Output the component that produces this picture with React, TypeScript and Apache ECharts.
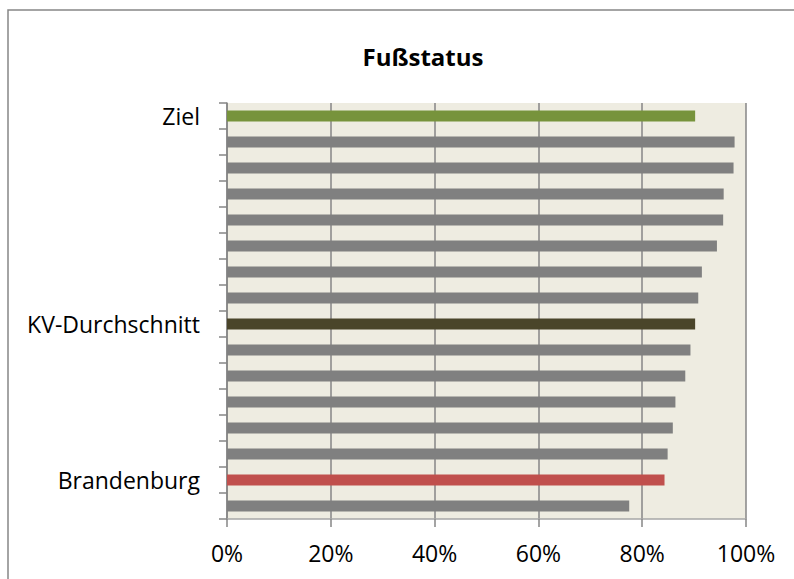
import React, { useEffect, useRef } from "react";
import * as echarts from "echarts";

const categories = [
  "Ziel", "", "", "", "", "", "", "",
  "KV-Durchschnitt", "", "", "", "", "",
  "Brandenburg", "",
];
const values = [
  0.902, 0.978, 0.976, 0.957, 0.956, 0.944, 0.915, 0.908,
  0.902, 0.893, 0.883, 0.864, 0.859, 0.849, 0.843, 0.775,
];
const barColors = [
  "#77933C", "#808080", "#808080", "#808080", "#808080", "#808080", "#808080", "#808080",
  "#4A452A", "#808080", "#808080", "#808080", "#808080", "#808080",
  "#C0504D", "#808080",
];
const xTicks = [0, 0.2, 0.4, 0.6, 0.8, 1];
const title = "Fußstatus";

export default function App() {
  const ref = useRef<HTMLDivElement>(null);
  useEffect(() => {
    if (!ref.current) return;
    const chart = echarts.init(ref.current, undefined, { renderer: "svg" });
    const font = "'Open Sans', sans-serif";
    chart.setOption({
      animation: false,
      backgroundColor: "#ffffff",
      title: {
        text: title,
        left: 418,
        top: 39,
        textAlign: "center",
        textStyle: { fontFamily: font, fontSize: 24, fontWeight: "bold", color: "#000" },
      },
      graphic: [
        {
          type: "rect",
          shape: { x: 8, y: 10, width: 900, height: 700 },
          style: { fill: "none", stroke: "#868686", lineWidth: 1.5 },
          silent: true,
          z: 100,
        },
      ],
      grid: {
        left: 227,
        right: 48,
        top: 103,
        bottom: 60,
        show: true,
        backgroundColor: "#EEECE1",
        borderWidth: 0,
      },
      xAxis: {
        type: "value",
        min: xTicks[0],
        max: xTicks[xTicks.length - 1],
        interval: 0.2,
        axisLine: { show: true, lineStyle: { color: "#A6A6A6", width: 1.5 } },
        axisTick: { show: true, length: 8, lineStyle: { color: "#868686", width: 1.5 } },
        splitLine: { show: true, lineStyle: { color: "#868686", width: 1.5 } },
        axisLabel: {
          fontFamily: font,
          fontSize: 23,
          color: "#000",
          margin: 22,
          formatter: (v: number) => Math.round(v * 100) + "%",
        },
      },
      yAxis: {
        type: "category",
        inverse: true,
        data: categories,
        axisLine: { show: true, lineStyle: { color: "#868686", width: 1.5 } },
        axisTick: { show: true, length: 8, lineStyle: { color: "#868686", width: 1.5 } },
        axisLabel: {
          fontFamily: font,
          fontSize: 23,
          color: "#000",
          margin: 27,
          interval: 0,
        },
      },
      series: [
        {
          type: "bar",
          barWidth: 11,
          data: values.map((v, i) => ({ value: v, itemStyle: { color: barColors[i] } })),
        },
      ],
    });
    return () => chart.dispose();
  }, []);
  return <div ref={ref} style={{ width: 794, height: 579, position: "absolute", left: 0, top: 0 }} />;
}
